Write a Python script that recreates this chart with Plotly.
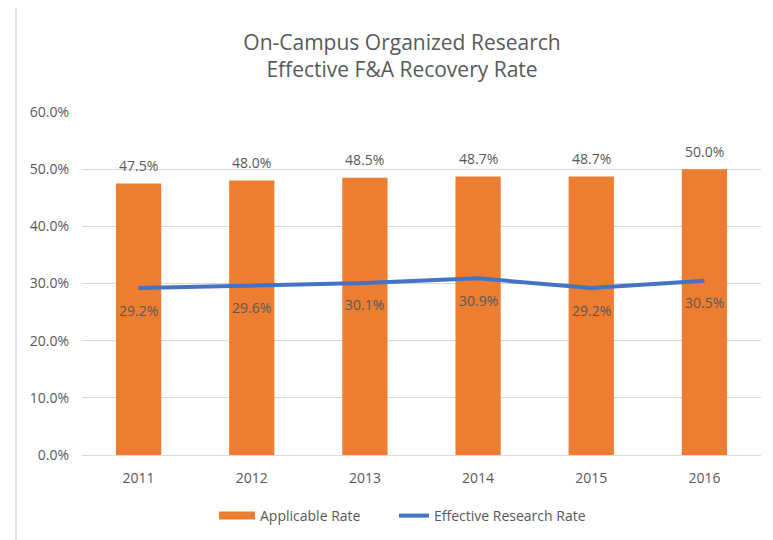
import plotly.graph_objects as go

years = ["2011", "2012", "2013", "2014", "2015", "2016"]
applicable_rate = [47.5, 48.0, 48.5, 48.7, 48.7, 50.0]
effective_rate = [29.2, 29.6, 30.1, 30.9, 29.2, 30.5]
y_ticks = [0, 10, 20, 30, 40, 50, 60]
y_tick_labels = ["0.0%", "10.0%", "20.0%", "30.0%", "40.0%", "50.0%", "60.0%"]

ORANGE = "#ED7D31"
BLUE = "#4472C4"
TEXT = "#595959"
FONT = "Open Sans"

fig = go.Figure()
fig.add_trace(go.Bar(x=years, y=applicable_rate, name="Applicable Rate",
                     marker=dict(color=ORANGE, line=dict(width=0)),
                     showlegend=False))
# legend entry drawn as a wide orange rectangle, like the reference
fig.add_trace(go.Scatter(x=[None], y=[None], name="Applicable Rate", mode="lines",
                         line=dict(color=ORANGE, width=8), legend="legend"))
fig.add_trace(go.Scatter(x=years, y=effective_rate, name="Effective Research Rate",
                         mode="lines", line=dict(color=BLUE, width=4), legend="legend2"))

annotations = []
for i, v in enumerate(applicable_rate):
    annotations.append(dict(x=i, y=v, text=f"{v:.1f}%", showarrow=False,
                            yshift=18, font=dict(family=FONT, size=14, color=TEXT)))
for i, v in enumerate(effective_rate):
    annotations.append(dict(x=i, y=v, text=f"{v:.1f}%", showarrow=False,
                            yshift=-22, font=dict(family=FONT, size=14, color=TEXT)))

W, H = 773, 540
L, T, PW, PH = 74, 104, 679, 343
LEG_Y = (447 - 508) / PH

fig.update_layout(
    width=W, height=H,
    margin=dict(l=L, r=W - L - PW, t=T, b=H - T - PH),
    paper_bgcolor="white", plot_bgcolor="white",
    font=dict(family=FONT, color=TEXT, size=14),
    title=dict(text="On-Campus Organized Research<br>Effective F&A Recovery Rate",
               x=394/W, xref="container", xanchor="center",
               y=1 - 42/H, yref="container", yanchor="middle",
               font=dict(family=FONT, size=21, color=TEXT)),
    bargap=0.6,
    showlegend=True,
    legend=dict(orientation="h", x=(206 - L)/PW, xanchor="left",
                y=LEG_Y, yanchor="middle",
                font=dict(family=FONT, size=14, color=TEXT),
                itemwidth=36),
    legend2=dict(orientation="h", x=(386 - L)/PW, xanchor="left",
                 y=LEG_Y, yanchor="middle",
                 font=dict(family=FONT, size=14, color=TEXT),
                 itemwidth=30),
    xaxis=dict(type="category", range=[-0.5, len(years) - 0.5],
               showgrid=False, showline=False, ticks="",
               ticklabelstandoff=13,
               tickfont=dict(family=FONT, size=14, color=TEXT)),
    yaxis=dict(range=[0, 60], tickvals=y_ticks, ticktext=y_tick_labels,
               showgrid=True, gridcolor="#D9D9D9", gridwidth=1,
               zeroline=True, zerolinecolor="#D9D9D9", zerolinewidth=1,
               showline=False, ticks="", ticklabelstandoff=12,
               tickfont=dict(family=FONT, size=14, color=TEXT)),
    annotations=annotations,
    shapes=[dict(type="rect", xref="paper", yref="paper",
                 x0=(8-L)/PW, x1=1.2, y0=-0.6, y1=(447+1)/PH,
                 line=dict(color="#D9D9D9", width=1.5), fillcolor="rgba(0,0,0,0)",
                 layer="below")],
)

fig.write_html("out.html")
